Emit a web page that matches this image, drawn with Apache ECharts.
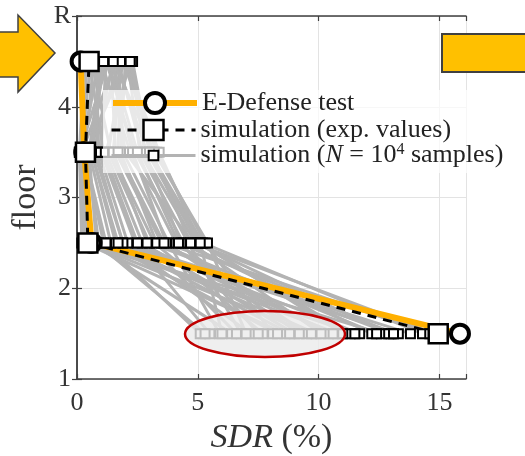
<!DOCTYPE html>
<html><head><meta charset="utf-8">
<script src="https://cdn.jsdelivr.net/npm/echarts@6/dist/echarts.min.js"></script>
<style>html,body{margin:0;padding:0;background:#fff}#c{width:525px;height:456px}</style>
</head><body><div id="c"></div>
<script>
// ---- data ----
const floors = [1.5, 2.5, 3.5, 4.5];
const yTickLabels = {1: '1', 2: '2', 3: '3', 4: '4', 5: 'R'};
const testSDR = [15.85, 0.6, 0.3, 0.15];      // E-Defense test
const simExpSDR = [14.95, 0.45, 0.35, 0.5];   // simulation (exp. values)
// simulation samples (each index = one sample), per floor
const sampleF15 = [5.1, 5.5, 5.9, 6.4, 6.8, 7.2, 7.7, 8.1, 8.6, 9.0, 9.5, 9.9, 10.4, 10.8, 11.3, 11.7, 12.2, 12.6, 13.0, 13.3, 14.3, 14.8, 6.0, 12.9,
                   5.3, 6.6, 7.5, 8.3, 9.2, 10.1, 10.6, 11.5, 12.4, 13.1, 13.8, 14.6, 7.0, 11.0, 8.8, 9.7];
const sampleF25 = [1.1, 2.4, 3.8, 0.6, 4.6, 1.9, 3.2, 5.3, 0.3, 2.7, 4.1, 1.4, 3.5, 0.9, 5.0, 2.1, 4.4, 0.2, 3.0, 1.6, 5.2, 4.8, 5.1, 4.9,
                   0.8, 2.9, 4.3, 1.2, 3.7, 4.7, 2.5, 0.5, 3.3, 4.2, 1.9, 3.6, 5.4, 5.1, 1.7, 0.4];
const sampleF35 = [0.3, 1.0, 1.9, 0.2, 2.6, 0.7, 1.4, 3.3, 0.1, 1.2, 2.2, 0.5, 1.6, 0.4, 2.9, 0.9, 2.4, 0.1, 1.3, 0.6, 3.0, 2.0, 3.4, 2.7,
                   0.5, 1.5, 2.8, 0.3, 2.3, 3.1, 1.1, 0.2, 1.8, 2.5, 0.8, 1.7, 3.2, 3.0, 0.6, 0.1];
const sampleF45 = [0.4, 1.2, 1.7, 0.9, 2.1, 1.5, 0.6, 1.9, 1.3, 2.2, 1.0, 1.8, 1.4, 2.0, 1.6, 0.8, 1.2, 0.3, 1.9, 1.1, 2.3, 1.5, 2.0, 1.7,
                   1.0, 1.8, 2.2, 0.7, 1.3, 2.1, 0.5, 1.6, 2.0, 1.4, 0.9, 1.8, 1.5, 2.2, 1.1, 0.6];

const NAME_TEST = 'E-Defense test';
const NAME_SIM = 'simulation (exp. values)';
const NAME_SAMP = 'simulation (N = 10^4 samples)';

const FONT = 'Liberation Serif';
const ORANGE = '#FFB000';

const series = [];
for (let i = 0; i < sampleF15.length; i++) {
  series.push({
    type: 'line', name: NAME_SAMP,
    data: [[sampleF15[i], floors[0]], [sampleF25[i], floors[1]], [sampleF35[i], floors[2]], [sampleF45[i], floors[3]]],
    lineStyle: {color: '#b3b3b3', width: 3},
    symbol: 'rect', symbolSize: 9,
    itemStyle: {color: '#fff', borderColor: '#000', borderWidth: 2},
    emphasis: {disabled: true}, animation: false, z: 2
  });
}
series.push({
  type: 'line', name: NAME_TEST,
  data: floors.map((f, i) => [testSDR[i], f]),
  lineStyle: {color: ORANGE, width: 6},
  symbol: 'circle', symbolSize: 18,
  itemStyle: {color: '#fff', borderColor: '#000', borderWidth: 4},
  emphasis: {disabled: true}, animation: false, z: 2
});
series.push({
  type: 'line', name: NAME_SIM,
  data: floors.map((f, i) => [simExpSDR[i], f]),
  lineStyle: {color: '#000', width: 3, type: [9, 7]},
  symbol: 'rect', symbolSize: 19,
  itemStyle: {color: '#fff', borderColor: '#000', borderWidth: 2.5},
  emphasis: {disabled: true}, animation: false, z: 2
});

const axisCommonX = {
  type: 'value', min: 0, max: 16.1, interval: 5,
  axisLine: {show: true, lineStyle: {color: '#404040', width: 1.5}},
  axisTick: {show: true, inside: true, length: 5, lineStyle: {color: '#404040', width: 1.2}},
};
const axisCommonY = {
  type: 'value', min: 1, max: 5, interval: 1,
  axisLine: {show: true, lineStyle: {color: '#404040', width: 1.5}},
  axisTick: {show: true, inside: true, length: 5, lineStyle: {color: '#404040', width: 1.2}},
};
const LF = 26;
const legendText = {fontFamily: FONT, fontSize: LF, color: '#222',
  rich: {i: {fontFamily: FONT, fontStyle: 'italic', fontSize: LF, color: '#222'},
         s: {fontFamily: FONT, fontSize: 16, color: '#222', padding: [0, 0, 11, 0]}}};
const legendCommon = {left: 110, orient: 'vertical', padding: 0, itemWidth: 84,
  textStyle: legendText, selectedMode: false, z: 5,
  lineStyle: {width: 'inherit'}, itemStyle: {borderWidth: 'inherit'}};

const chart = echarts.init(document.getElementById('c'), null, {renderer: 'canvas'});
chart.setOption({
  animation: false,
  backgroundColor: '#fff',
  grid: {left: 77, top: 16, right: 59, bottom: 77, containLabel: false, outerBoundsMode: 'none'},
  xAxis: [
    Object.assign({}, axisCommonX, {
      position: 'bottom',
      splitLine: {show: true, lineStyle: {color: '#e3e3e3', width: 1}},
      axisLabel: {show: true, margin: 11, fontFamily: FONT, fontSize: 26, color: '#333',
        formatter: v => (Math.abs(v % 5) < 1e-9 ? String(v) : '')},
      name: '{i|SDR} (%)', nameLocation: 'middle', nameGap: 37,
      nameTextStyle: {fontFamily: FONT, fontSize: 34, color: '#333',
        rich: {i: {fontFamily: FONT, fontStyle: 'italic', fontSize: 34, color: '#333'}}}
    }),
    Object.assign({}, axisCommonX, {position: 'top', splitLine: {show: false}, axisLabel: {show: false}})
  ],
  yAxis: [
    Object.assign({}, axisCommonY, {
      position: 'left',
      splitLine: {show: true, lineStyle: {color: '#e3e3e3', width: 1}},
      axisLabel: {show: true, margin: 6, fontFamily: FONT, fontSize: 26, color: '#333',
        formatter: v => yTickLabels[v] || ''},
      name: 'floor', nameLocation: 'middle', nameGap: 34, nameRotate: 90,
      nameTextStyle: {fontFamily: FONT, fontSize: 34, color: '#333'}
    }),
    Object.assign({}, axisCommonY, {position: 'right', splitLine: {show: false}, axisLabel: {show: false}})
  ],
  legend: [
    Object.assign({}, legendCommon, {data: [NAME_TEST], top: 90, itemHeight: 25}),
    Object.assign({}, legendCommon, {data: [NAME_SIM], top: 117, itemHeight: 25}),
    Object.assign({}, legendCommon, {data: [NAME_SAMP], top: 142, itemHeight: 12,
      formatter: () => 'simulation ({i|N} = 10{s|4} samples)'})
  ],
  graphic: {elements: [
    {type: 'rect', z: 3, silent: true, shape: {x: 103, y: 90, width: 417, height: 83},
     style: {fill: 'rgba(255,255,255,0.7)'}},
    {type: 'ellipse', z: 10, silent: true, shape: {cx: 265, cy: 334, rx: 80, ry: 23},
     style: {fill: 'rgba(235,235,235,0.8)', stroke: '#C00000', lineWidth: 2.5}},
    {type: 'polygon', z: 10, silent: true,
     shape: {points: [[-5, 32], [18, 32], [18, 15], [55, 53], [18, 92], [18, 77], [-5, 77]]},
     style: {fill: '#FFC000', stroke: '#404040', lineWidth: 1.5}},
    {type: 'rect', z: 10, silent: true, shape: {x: 442, y: 34, width: 90, height: 38},
     style: {fill: '#FFC000', stroke: '#404040', lineWidth: 2}}
  ]},
  series: series
});
</script></body></html>
